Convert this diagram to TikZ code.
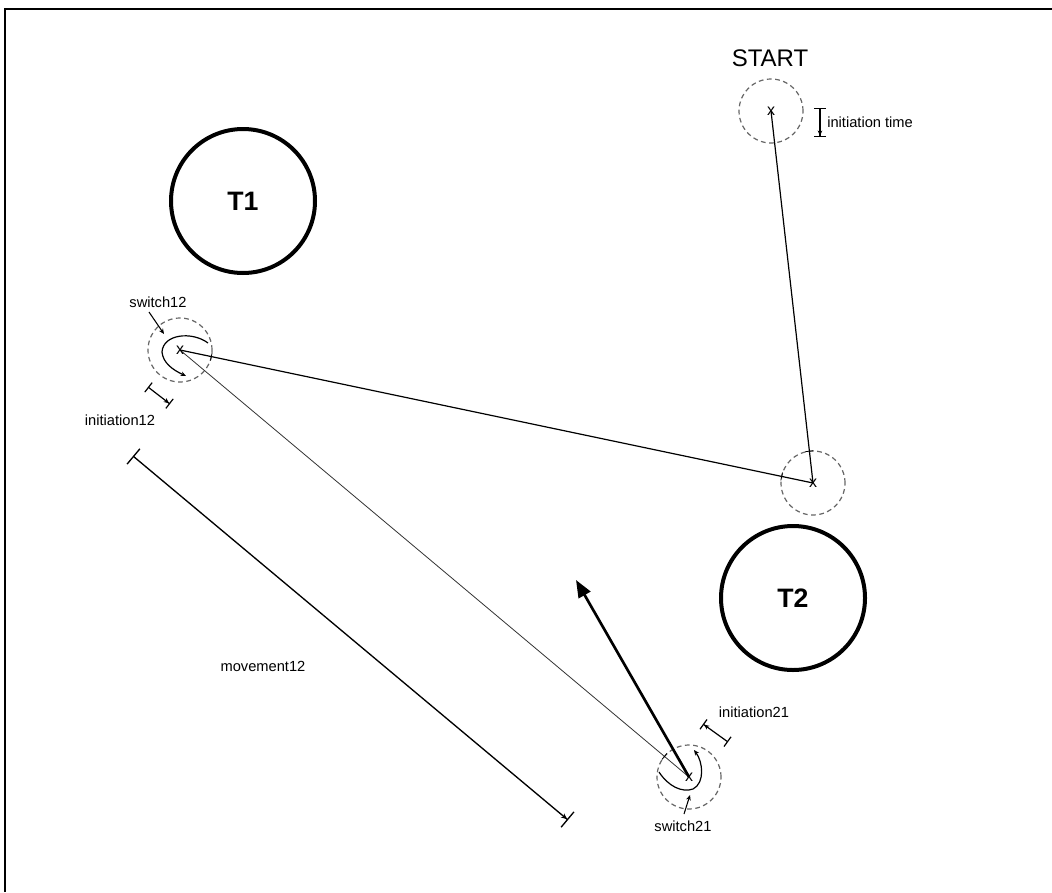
\documentclass[tikz,border=0pt]{standalone}
\usepackage{fontspec}
\setmainfont{Liberation Sans}
\usetikzlibrary{calc,arrows.meta}
\begin{document}
\begin{tikzpicture}[x=0.75pt,y=-0.75pt,
  zone/.style={circle,draw=black!60,dash pattern=on 3.6pt off 2.6pt,line width=0.9pt,minimum size=48pt,inner sep=0pt},
  target/.style={circle,draw,line width=3pt,minimum size=108pt,inner sep=0pt,font=\fontsize{20}{20}\selectfont\bfseries},
  xmark/.style={inner sep=0pt,font=\fontsize{12}{12}\selectfont},
  lbl/.style={inner sep=0pt,font=\fontsize{11}{13}\selectfont},
  route/.style={line width=0.9pt},
  fineroute/.style={line width=0.6pt,draw=black!80},
  tick/.style={line width=0.6pt},
  dimline/.style={line width=0.9pt,{Bar[width=9pt]}-{Stealth[length=4pt,width=3.5pt]Bar[width=9pt]}},
  dimlong/.style={line width=1pt,{Bar[width=15pt]}-{Stealth[length=4.5pt,width=4pt]Bar[width=15pt]}},
  pointer/.style={line width=0.8pt,-{Stealth[length=4pt,width=3.5pt]}},
  heading/.style={line width=2pt,-{Triangle[length=13pt,width=10pt]}}
]
\useasboundingbox (0,0) rectangle (1052,892);
% frame
\draw[line width=2.2pt] (5,892) -- (5,9) -- (1052,9);

% targets
\node[target] (t1) at (243,201) {T1};
\node[target] (t2) at (793,598) {T2};

% dashed zones around the fixation points
\node[zone] (s) at (771,111) {};
\node[zone] (p) at (813,483) {};
\node[zone] (w1) at (180,350) {};
\node[zone] (w2) at (689,777) {};
\node[font=\fontsize{18}{18}\selectfont,inner sep=0pt] (start) at (770,58) {START};

% paths between the points
\draw[route] (s.center) -- (p.center);
\draw[route] (w1.center) -- (p.center);
\draw[fineroute] (w1.center) -- (w2.center);
\coordinate (head) at (576,580);
\draw[heading] (w2.center) -- (head);

% crossing marks where the paths leave the zones
\foreach \c/\o [count=\i] in {p/s, p/w1, w1/p, w2/w1} {
  \path ($(\c.center)!24pt!(\o.center)$) coordinate (q\i);
  \draw[tick] ($(q\i)!3pt!90:(\o.center)$) -- ($(q\i)!3pt!-90:(\o.center)$);
}

% point marks
\foreach \n in {s,p,w1,w2} \node[xmark] (\n x) at (\n.center) {x};

% initiation time
\coordinate (it1) at (820,108);
\coordinate (it2) at (820,137);
\draw[dimline] (it1) -- (it2);
\node[lbl,anchor=west] (itl) at (827,122) {initiation time};

% switch 1 -> 2
\draw[line width=0.9pt,-{Stealth[length=4pt,width=3.5pt]}] (208,343) .. controls (192,331) and (163,334) .. (162,352) .. controls (163,363) and (173,370) .. (186,376);
\node[lbl] (sw12) at (158,302) {switch12};
\coordinate (sw12a) at (149,312);
\coordinate (sw12b) at (164,334);
\draw[pointer] (sw12a) -- (sw12b);

\coordinate (i12a) at (148,387);
\coordinate (i12b) at (170,404);
\draw[dimline] (i12a) -- (i12b);
\node[lbl] (i12l) at (120,420) {initiation12};

% movement 1 -> 2
\coordinate (m1) at (133,456);
\coordinate (m2) at (568,820);
\draw[dimlong] (m1) -- (m2);
\node[lbl] (ml) at (263,666) {movement12};

% switch 2 -> 1
\draw[line width=0.9pt,-{Stealth[length=4pt,width=3.5pt]}] (659,772) .. controls (668,786) and (682,793) .. (693,789) .. controls (705,783) and (703,762) .. (694,750);
\node[lbl] (sw21) at (683,826) {switch21};
\coordinate (sw21a) at (684,814);
\coordinate (sw21b) at (690,795);
\draw[pointer] (sw21a) -- (sw21b);

\coordinate (i21a) at (728,742);
\coordinate (i21b) at (703,724);
\draw[dimline] (i21a) -- (i21b);
\node[lbl] (i21l) at (754,712) {initiation21};
\end{tikzpicture}
\end{document}
